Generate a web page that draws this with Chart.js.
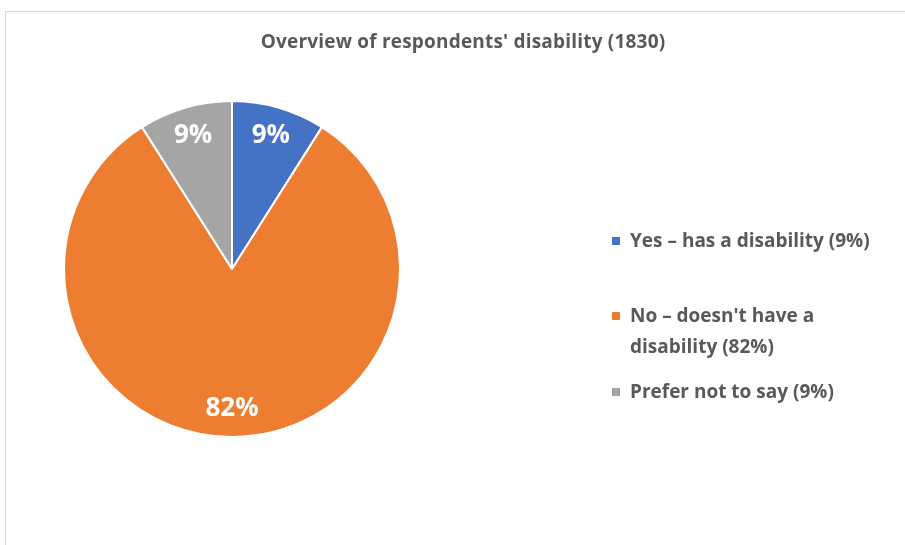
<!DOCTYPE html>
<html>
<head>
<meta charset="utf-8">
<script src="https://cdn.jsdelivr.net/npm/chart.js@4"></script>
<style>
    body { margin: 0; background: #fff; }
    .wrap { position: relative; width: 905px; height: 545px; overflow: hidden; }
    .frame { position: absolute; left: 5px; top: 11px; width: 920px; height: 560px; border-left: 1px solid #d9d9d9; border-top: 1px solid #d9d9d9; }
    canvas { position: absolute; left: 0; top: 0; }
    .title { position: absolute; left: 13px; width: 900px; top: 28px; text-align: center; font: bold 19px "Open Sans", sans-serif; color: #595959; letter-spacing: 0.2px; }
    .legend { position: absolute; left: 612px; top: 0; font: bold 19px "Open Sans", sans-serif; color: #595959; }
    .item { position: absolute; left: 0; width: 290px; padding-left: 18px; line-height: 31px; white-space: nowrap; }
    .item i { position: absolute; left: 0; width: 8px; height: 8px; }
</style>
</head>
<body>
<div class="wrap">
    <div class="frame"></div>
    <canvas id="myChart" width="905" height="545"></canvas>
    <div class="title" id="title"></div>
    <div class="legend" id="legend"></div>
</div>
<script>
const chartTitle = "Overview of respondents' disability (1830)"
const categories = ['Yes \u2013 has a disability', "No \u2013 doesn't have a disability", 'Prefer not to say']
const percents = [9, 82, 9]
const colors = ['#4472C4', '#ED7D31', '#A5A5A5']

document.getElementById('title').textContent = chartTitle

// legend drawn in html so the long entry can wrap like the original
const legendLines = [
    [categories[0] + ' (' + percents[0] + '%)'],
    ["No \u2013 doesn't have a", 'disability (' + percents[1] + '%)'],
    [categories[2] + ' (' + percents[2] + '%)'],
]
const legendTops = [225, 300, 376]
const legend = document.getElementById('legend')
legendLines.forEach((lines, i) => {
    const div = document.createElement('div')
    div.className = 'item'
    div.style.top = legendTops[i] + 'px'
    div.innerHTML = '<i style="background:' + colors[i] + ';top:12px"></i>' + lines.join('<br>')
    legend.appendChild(div)
})

const sliceLabels = {
    id: 'sliceLabels',
    afterDatasetsDraw(chart) {
        const ctx = chart.ctx
        const meta = chart.getDatasetMeta(0)
        ctx.save()
        ctx.fillStyle = '#fff'
        ctx.font = 'bold 26px "Open Sans", sans-serif'
        ctx.textAlign = 'center'
        ctx.textBaseline = 'middle'
        meta.data.forEach((arc, i) => {
            const p = arc.getProps(['x', 'y', 'startAngle', 'endAngle', 'outerRadius'], true)
            const mid = (p.startAngle + p.endAngle) / 2
            const r = p.outerRadius * 0.83
            ctx.fillText(percents[i] + '%', p.x + Math.cos(mid) * r, p.y + Math.sin(mid) * r)
        })
        ctx.restore()
    }
}

const ctx = document.getElementById('myChart').getContext('2d')
const myChart = new Chart(ctx, {
    type: 'pie',
    data: {
        labels: categories,
        datasets: [{
            data: percents,
            backgroundColor: colors,
            borderColor: '#fff',
            borderWidth: 2,
        }]
    },
    options: {
        responsive: false,
        animation: false,
        layout: { padding: { left: 63, right: 504, top: 100, bottom: 107 } },
        plugins: {
            legend: { display: false },
            tooltip: { enabled: false },
        }
    },
    plugins: [sliceLabels]
})
</script>
</body>
</html>
